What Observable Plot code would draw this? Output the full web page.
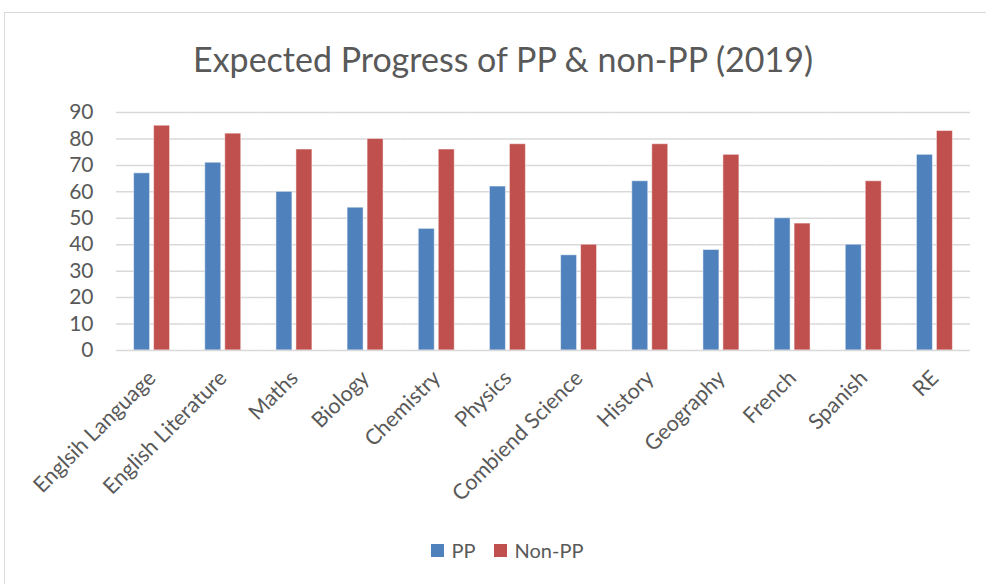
<!DOCTYPE html>
<html>
<head>
<meta charset="utf-8">
<script src="https://cdn.jsdelivr.net/npm/d3@7"></script>
<script src="https://cdn.jsdelivr.net/npm/@observablehq/plot@0.6"></script>
<style>
  html, body { margin: 0; padding: 0; background: #fff; }
  #wrap { position: relative; width: 986px; height: 584px; overflow: hidden; font-family: Lato, "Open Sans", sans-serif; color: #595959; }
  #frame { position: absolute; left: 4px; top: 12px; width: 990px; height: 590px; border: 1px solid #d9d9d9; box-sizing: border-box; }
  #title { position: absolute; left: 0; top: 38px; width: 1006px; text-align: center; font-size: 34px; line-height: 42px; color: #595959; }
  #chart { position: absolute; left: 0; top: 90px; }
  #legend { position: absolute; left: 0; top: 538px; width: 1014px; display: flex; justify-content: center; align-items: center; font-size: 20px; color: #595959; }
  .sw { display: inline-block; width: 13px; height: 13px; margin-right: 8px; }
  .item { display: flex; align-items: center; margin: 0 9px; }
</style>
</head>
<body>
<div id="wrap">
  <div id="frame"></div>
  <div id="title">Expected Progress of PP &amp; non-PP (2019)</div>
  <div id="chart"></div>
  <div id="legend"></div>
</div>
<script>
const subjects = ["Englsih Language", "English Literature", "Maths", "Biology", "Chemistry", "Physics", "Combiend Science", "History", "Geography", "French", "Spanish", "RE"];
const seriesNames = ["PP", "Non-PP"];
const ppValues = [67, 71, 60, 54, 46, 62, 36, 64, 38, 50, 40, 74];
const nonPpValues = [85, 82, 76, 80, 76, 78, 40, 78, 74, 48, 64, 83];
const yTicks = [0, 10, 20, 30, 40, 50, 60, 70, 80, 90];
const colors = ["#4F81BD", "#C0504D"];

const data = [];
subjects.forEach((s, i) => {
  data.push({subject: s, series: "PP", value: ppValues[i]});
  data.push({subject: s, series: "Non-PP", value: nonPpValues[i]});
});

const chart = Plot.plot({
  width: 986,
  height: 440,
  marginTop: 22,
  marginBottom: 180,
  marginLeft: 116,
  marginRight: 16,
  style: {fontFamily: "Lato, 'Open Sans', sans-serif", color: "#595959", background: "transparent"},
  fx: {domain: subjects, padding: 0, label: null, round: false},
  x: {domain: seriesNames, paddingInner: 0.2, paddingOuter: 0.88, round: false, axis: null},
  y: {domain: [0, 90], ticks: yTicks, label: null},
  color: {domain: seriesNames, range: colors},
  marks: [
    Plot.gridY(yTicks.filter(t => t > 0), {stroke: "#d9d9d9", strokeOpacity: 1, strokeWidth: 1.5, facetAnchor: null}),
    Plot.axisY({ticks: yTicks, tickSize: 0, tickPadding: 23, fontSize: 21, label: null, anchor: "left"}),
    Plot.barY(data, {fx: "subject", x: "series", y: "value", fill: "series", stroke: "white", strokeOpacity: 0.5, strokeWidth: 1}),
    Plot.ruleY([0], {stroke: "#d9d9d9", strokeWidth: 1.5}),
    Plot.axisFx({tickSize: 0, tickRotate: -45, tickPadding: 24, fontSize: 21.5, label: null, anchor: "bottom"})
  ]
});
document.getElementById("chart").appendChild(chart);

const legend = document.getElementById("legend");
seriesNames.forEach((n, i) => {
  const it = document.createElement("div");
  it.className = "item";
  const sw = document.createElement("span");
  sw.className = "sw";
  sw.style.background = colors[i];
  it.appendChild(sw);
  it.appendChild(document.createTextNode(n));
  legend.appendChild(it);
});
</script>
</body>
</html>
